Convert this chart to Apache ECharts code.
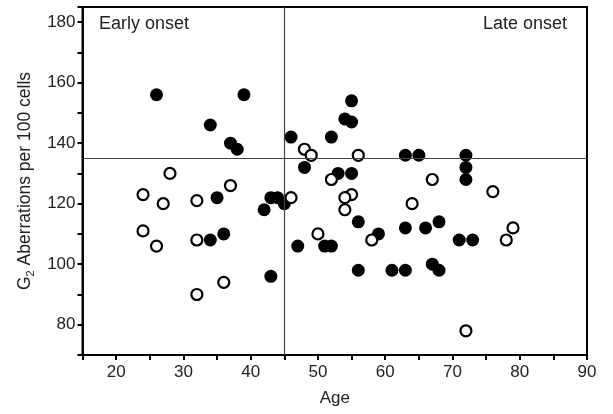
<!DOCTYPE html>
<html><head><meta charset="utf-8">
<script src="https://cdn.jsdelivr.net/npm/echarts@6/dist/echarts.min.js"></script>
<style>html,body{margin:0;padding:0;background:#fff}#c{width:613px;height:414px}</style>
</head><body><div id="c"></div>
<script>
const xTicks = [20,30,40,50,60,70,80,90];
const yTicks = [80,100,120,140,160,180];
const filledAge = [26,39,34,37,38,46,55,54,55,52,48,53,55,63,65,72,72,72,35,43,44,45,42,56,47,51,52,43,56,61,63,59,63,66,68,71,73,68,67,34,36];
const filledVal = [156,156,146,140,138,142,154,148,147,142,132,130,130,136,136,136,132,128,122,122,122,120,118,114,106,106,106,96,98,98,98,110,112,112,114,108,108,98,100,108,110];
const openAge = [24,27,32,37,28,24,26,32,36,32,48,49,56,46,52,55,54,54,50,58,67,76,64,78,79,72];
const openVal = [123,120,121,126,130,111,106,108,94,90,138,136,136,122,128,123,122,118,110,108,128,124,120,108,112,78];
const onsetAge = 45;
const cutoff = 135;

const FONT = 'Liberation Sans, Arial, sans-serif';
const chart = echarts.init(document.getElementById('c'), null, {renderer:'canvas'});
const pairs = (a, b) => a.map((v, i) => [v, b[i]]);

chart.setOption({
  animation: false,
  backgroundColor: '#fff',
  grid: {left: 82.5, right: 26, top: 7, bottom: 59, show: true, borderColor: '#000', borderWidth: 2},
  xAxis: {
    type: 'value', min: 15, max: 90, interval: 5,
    axisLine: {lineStyle: {color: '#000', width: 2}},
    axisTick: {length: 5, lineStyle: {color: '#000', width: 2}},
    splitLine: {show: false},
    axisLabel: {formatter: v => xTicks.includes(v) ? String(v) : '', color: '#222', fontSize: 17, fontFamily: FONT, margin: 9},
    name: 'Age', nameLocation: 'middle', nameGap: 35,
    nameTextStyle: {color: '#222', fontSize: 17, fontFamily: FONT}
  },
  yAxis: {
    type: 'value', min: 70, max: 185, interval: 10,
    axisLine: {lineStyle: {color: '#000', width: 2}},
    axisTick: {length: 5, lineStyle: {color: '#000', width: 2}},
    splitLine: {show: false},
    axisLabel: {formatter: v => yTicks.includes(v) ? String(v) : '', color: '#222', fontSize: 17, fontFamily: FONT, margin: 7},
    name: '{n|G}{s|2}{n| Aberrations per 100 cells}', nameLocation: 'middle', nameGap: 44,
    nameTextStyle: {
      color: '#222', fontFamily: FONT,
      rich: {
        n: {fontSize: 17.5, lineHeight: 22, color: '#222', fontFamily: FONT},
        s: {fontSize: 11, lineHeight: 12, verticalAlign: 'bottom', color: '#222', fontFamily: FONT}
      }
    }
  },
  graphic: [
    {type: 'text', left: 99, top: 15, style: {text: 'Early onset', fill: '#222', font: '18px ' + FONT}},
    {type: 'text', right: 46, top: 15, style: {text: 'Late onset', fill: '#222', font: '18px ' + FONT}}
  ],
  series: [
    {
      type: 'scatter', data: [], z: 1, silent: true,
      markLine: {
        silent: true, symbol: ['none', 'none'], label: {show: false},
        lineStyle: {color: '#444', width: 1.2, type: 'solid'},
        data: [{xAxis: onsetAge}, {yAxis: cutoff}]
      }
    },
    {
      type: 'scatter', z: 2, data: pairs(filledAge, filledVal), symbol: 'circle', symbolSize: 13,
      itemStyle: {color: '#000', opacity: 1}
    },
    {
      type: 'scatter', z: 3, data: pairs(openAge, openVal), symbol: 'circle', symbolSize: 11,
      itemStyle: {color: '#fff', borderColor: '#000', borderWidth: 2.2, opacity: 1}
    }
  ]
});
</script></body></html>
